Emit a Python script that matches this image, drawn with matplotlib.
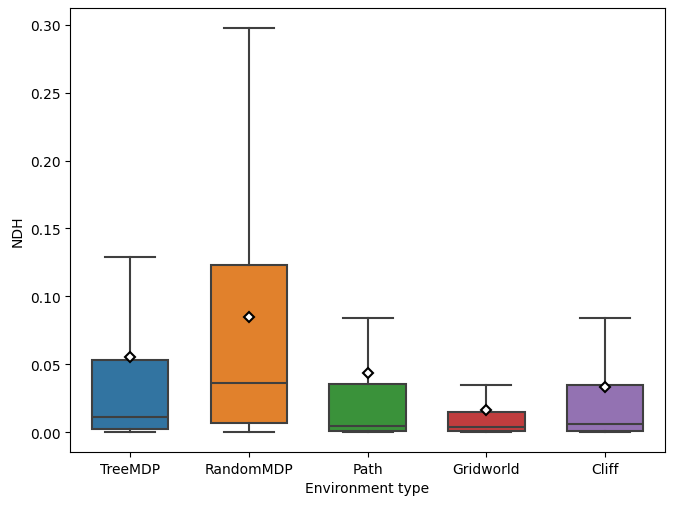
import matplotlib
matplotlib.use('Agg')
import matplotlib.pyplot as plt

# summary stats
envs = ['TreeMDP', 'RandomMDP', 'Path', 'Gridworld', 'Cliff']
whislo = [0.0, 0.0, 0.0, 0.0, 0.0]
q1 = [0.0022, 0.0069, 0.0010, 0.0010, 0.0010]
med = [0.0113, 0.0363, 0.0044, 0.0035, 0.0059]
q3 = [0.0530, 0.1232, 0.0351, 0.0145, 0.0346]
whishi = [0.1291, 0.2975, 0.0839, 0.0346, 0.0839]
means = [0.0555, 0.0847, 0.0437, 0.0164, 0.0331]

colors = ['#3274a1', '#e1812c', '#3a923a', '#c03d3e', '#9372b2']
line_col = '#3f3f3f'

stats = []
for i in range(len(envs)):
    stats.append({'label': envs[i], 'whislo': whislo[i], 'q1': q1[i], 'med': med[i],
                  'q3': q3[i], 'whishi': whishi[i], 'mean': means[i], 'fliers': []})

fig, ax = plt.subplots(figsize=(6.75, 5.06), dpi=100)
fig.subplots_adjust(left=0.104, right=0.985, top=0.982, bottom=0.105)

bp = ax.bxp(stats, positions=range(len(envs)), widths=0.64, capwidths=0.42,
            patch_artist=True, showmeans=True, showfliers=False,
            boxprops=dict(edgecolor=line_col, linewidth=1.5),
            medianprops=dict(color=line_col, linewidth=1.5),
            whiskerprops=dict(color=line_col, linewidth=1.5),
            capprops=dict(color=line_col, linewidth=1.5),
            meanprops=dict(marker='D', markerfacecolor='white', markeredgecolor='black',
                           markersize=5.5, markeredgewidth=1.5))
for patch, c in zip(bp['boxes'], colors):
    patch.set_facecolor(c)

ax.set_xlim(-0.5, 4.5)
ax.set_ylim(-0.0145, 0.3122)
ax.set_xticks(range(len(envs)))
ax.set_xticklabels(envs)
ax.set_xlabel('Environment type')
ax.set_ylabel('NDH')

plt.savefig('out.png')
